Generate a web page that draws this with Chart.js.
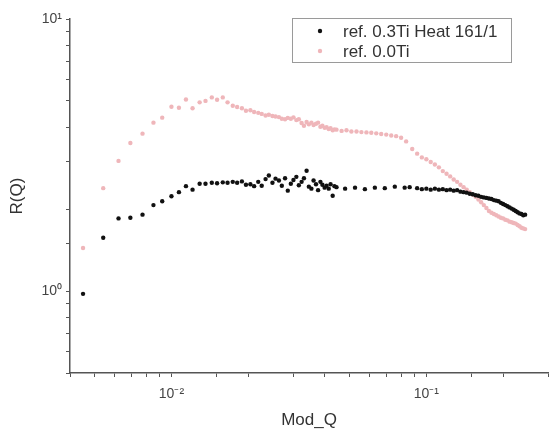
<!DOCTYPE html>
<html>
<head>
<meta charset="utf-8">
<script src="https://cdn.jsdelivr.net/npm/chart.js@4/dist/chart.umd.min.js"></script>
<style>
    html, body { margin: 0; padding: 0; background: #fff; }
    #wrap { width: 549px; height: 432px; }
</style>
</head>
<body>
<div id="wrap"><canvas id="rq"></canvas></div>
<script>
// ref. 0.3Ti Heat 161/1
let qBlack = [0.0045, 0.0054, 0.0062, 0.0069, 0.0077, 0.0085, 0.0092, 0.0100, 0.0107, 0.0114,
    0.0121, 0.0129, 0.0136, 0.0144, 0.0151, 0.0159, 0.0166, 0.0174, 0.0181, 0.0189,
    0.0196, 0.0204, 0.0211, 0.0219, 0.0226, 0.0234, 0.0241, 0.0249, 0.0256, 0.0264,
    0.0271, 0.0279, 0.0286, 0.0294, 0.0301, 0.0309, 0.0316, 0.0324, 0.0331, 0.0339,
    0.0346, 0.0354, 0.0361, 0.0369, 0.0376, 0.0384, 0.0391, 0.0399, 0.0406, 0.0414,
    0.0421, 0.0429, 0.0436, 0.0444,
    0.048, 0.0525, 0.0574, 0.0628, 0.0687, 0.0752, 0.0822, 0.0860,
    0.092, 0.096, 0.100, 0.104, 0.108, 0.112, 0.116, 0.120, 0.124, 0.128,
    0.132, 0.136, 0.140, 0.144, 0.148, 0.152, 0.156, 0.160, 0.164, 0.168,
    0.172, 0.176, 0.180, 0.184, 0.188, 0.192, 0.196, 0.200, 0.204, 0.208,
    0.212, 0.216, 0.220, 0.224, 0.228, 0.232, 0.236, 0.240, 0.244];
let rBlack = [0.977, 1.57, 1.85, 1.86, 1.91, 2.07, 2.14, 2.23, 2.31, 2.43,
    2.36, 2.48, 2.48, 2.50, 2.49, 2.51, 2.50, 2.52, 2.50, 2.53,
    2.46, 2.47, 2.43, 2.52, 2.44, 2.58, 2.66, 2.50, 2.59, 2.55,
    2.44, 2.60, 2.34, 2.48, 2.56, 2.63, 2.45, 2.52, 2.60, 2.77,
    2.42, 2.38, 2.55, 2.47, 2.35, 2.52, 2.46, 2.40, 2.44, 2.38,
    2.47, 2.24, 2.43, 2.41,
    2.38, 2.40, 2.37, 2.40, 2.39, 2.42, 2.40, 2.41,
    2.39, 2.37, 2.38, 2.36, 2.38, 2.36, 2.37, 2.35, 2.36, 2.34,
    2.35, 2.32, 2.31, 2.30, 2.28, 2.27, 2.25, 2.24, 2.22, 2.21,
    2.20, 2.19, 2.18, 2.16, 2.15, 2.14, 2.11, 2.09, 2.07, 2.05,
    2.03, 2.01, 1.99, 1.97, 1.95, 1.93, 1.92, 1.90, 1.91];

// ref. 0.0Ti
let qPink = [0.0045, 0.0054, 0.0062, 0.0069, 0.0077, 0.0085, 0.0092, 0.0100, 0.0107, 0.0114,
    0.0121, 0.0129, 0.0136, 0.0144, 0.0151, 0.0159, 0.0166, 0.0174, 0.0181, 0.0189,
    0.0196, 0.0204, 0.0211, 0.0219, 0.0226, 0.0234, 0.0241, 0.0249, 0.0256, 0.0264,
    0.0271, 0.0279, 0.0286, 0.0294, 0.0301, 0.0309, 0.0316, 0.0324, 0.0331, 0.0339,
    0.0346, 0.0354, 0.0361, 0.0369, 0.0376, 0.0384, 0.0391, 0.0399, 0.0406, 0.0414,
    0.0421, 0.0429, 0.0436, 0.0444,
    0.0465, 0.0486, 0.0508, 0.0532, 0.0556, 0.0582, 0.0608, 0.0636, 0.0665, 0.0696,
    0.0728, 0.0761, 0.0796, 0.0833,
    0.088, 0.092, 0.096, 0.100, 0.104, 0.108, 0.112, 0.116, 0.120, 0.124,
    0.128, 0.132, 0.136, 0.140, 0.144, 0.148, 0.152, 0.156, 0.160, 0.164,
    0.168, 0.172, 0.176, 0.180, 0.184, 0.188, 0.192, 0.196, 0.200, 0.204,
    0.208, 0.212, 0.216, 0.220, 0.224, 0.228, 0.232, 0.236, 0.240, 0.244];
let rPink = [1.44, 2.39, 3.01, 3.50, 3.79, 4.16, 4.34, 4.76, 4.72, 5.06,
    4.70, 4.94, 5.00, 5.15, 5.05, 5.15, 4.94, 4.80, 4.75, 4.70,
    4.60, 4.62, 4.55, 4.52, 4.48, 4.42, 4.45, 4.40, 4.38, 4.36,
    4.30, 4.28, 4.33, 4.30, 4.35, 4.25, 4.28, 4.15, 4.05, 4.18,
    4.10, 4.16, 4.08, 4.12, 4.16, 4.02, 4.05, 3.98, 4.00, 3.94,
    3.97, 3.90, 3.93, 3.92,
    3.88, 3.90, 3.86, 3.86, 3.84, 3.83, 3.82, 3.80, 3.78, 3.76,
    3.73, 3.71, 3.66, 3.55,
    3.33, 3.20, 3.10, 3.05, 2.98, 2.92, 2.85, 2.76, 2.70, 2.64,
    2.57, 2.52, 2.46, 2.41, 2.36, 2.31, 2.26, 2.22, 2.17, 2.12,
    2.07, 2.02, 1.97, 1.94, 1.92, 1.90, 1.88, 1.86, 1.85, 1.83,
    1.82, 1.80, 1.79, 1.78, 1.77, 1.75, 1.73, 1.71, 1.70, 1.69];

let seriesNames = ['ref. 0.3Ti Heat 161/1', 'ref. 0.0Ti'];
let seriesColors = ['#111111', '#efb6ba'];

function toPoints(qs, rs) {
    let pts = [];
    for (let i = 0; i < qs.length; i++) {
        pts.push({x: qs[i], y: rs[i]});
    }
    return pts;
}

function powerLabel(v) {
    let e = Math.round(Math.log10(v));
    if (Math.abs(Math.log10(v) - e) > 1e-6) {
        return '';
    }
    let sup = {'-': '\u207B', '0': '\u2070', '1': '\u00B9', '2': '\u00B2', '3': '\u00B3'};
    let s = String(e).split('').map(function (c) { return sup[c]; }).join('');
    return '10' + s;
}

// boxed legend in the upper right, like the original plot
let boxLegend = {
    id: 'boxLegend',
    afterDraw: function (chart) {
        let ctx = chart.ctx;
        ctx.save();
        ctx.strokeStyle = '#9a9a9a';
        ctx.lineWidth = 1;
        ctx.strokeRect(292.5, 18.5, 219, 44);
        ctx.font = '17px "Liberation Sans", Arial, sans-serif';
        ctx.textBaseline = 'middle';
        chart.data.datasets.forEach(function (ds, i) {
            let y = 31 + i * 20;
            ctx.fillStyle = ds.backgroundColor;
            ctx.beginPath();
            ctx.arc(320, y, 2.2, 0, Math.PI * 2);
            ctx.fill();
            ctx.fillStyle = '#333';
            ctx.fillText(ds.label, 343, y + 1);
        });
        ctx.restore();
    }
};

let axisColor = '#555';
let fontFamily = '"Liberation Sans", Arial, sans-serif';

let chart = new Chart(document.getElementById('rq'), {
    type: 'scatter',
    data: {
        datasets: [{
            label: seriesNames[0],
            data: toPoints(qBlack, rBlack),
            backgroundColor: seriesColors[0],
            borderWidth: 0,
            pointRadius: 2.2
        }, {
            label: seriesNames[1],
            data: toPoints(qPink, rPink),
            backgroundColor: seriesColors[1],
            borderWidth: 0,
            pointRadius: 2.2
        }]
    },
    options: {
        responsive: true,
        maintainAspectRatio: false,
        animation: false,
        layout: {autoPadding: false, padding: {top: 19, right: 1, left: 0, bottom: 0}},
        plugins: {
            legend: {display: false},
            tooltip: {enabled: false}
        },
        scales: {
            x: {
                type: 'logarithmic',
                min: 0.004,
                max: 0.3,
                border: {display: true, color: axisColor, width: 1.5},
                grid: {drawOnChartArea: false, drawTicks: true, tickLength: 4, color: axisColor},
                ticks: {
                    autoSkip: false,
                    maxRotation: 0,
                    padding: 9,
                    color: '#444',
                    font: {family: fontFamily, size: 14},
                    callback: function (v) { return powerLabel(v); }
                },
                title: {
                    display: true,
                    text: 'Mod_Q',
                    color: '#333',
                    font: {family: fontFamily, size: 17},
                    padding: {top: 1, bottom: 1}
                },
                afterFit: function (scale) {
                    scale.height = 59;
                    scale.paddingLeft = 0;
                    scale.paddingRight = 0;
                }
            },
            y: {
                type: 'logarithmic',
                min: 0.5,
                max: 10,
                border: {display: true, color: axisColor, width: 1.5},
                grid: {drawOnChartArea: false, drawTicks: true, tickLength: 4, color: axisColor},
                ticks: {
                    autoSkip: false,
                    padding: 4,
                    color: '#444',
                    font: {family: fontFamily, size: 14},
                    callback: function (v) { return powerLabel(v); }
                },
                title: {
                    display: true,
                    text: 'R(Q)',
                    color: '#333',
                    font: {family: fontFamily, size: 17},
                    padding: {top: 7, bottom: 1}
                },
                afterFit: function (scale) {
                    scale.width = 70;
                    scale.paddingTop = 0;
                    scale.paddingBottom = 0;
                }
            }
        }
    },
    plugins: [boxLegend]
});
</script>
</body>
</html>
